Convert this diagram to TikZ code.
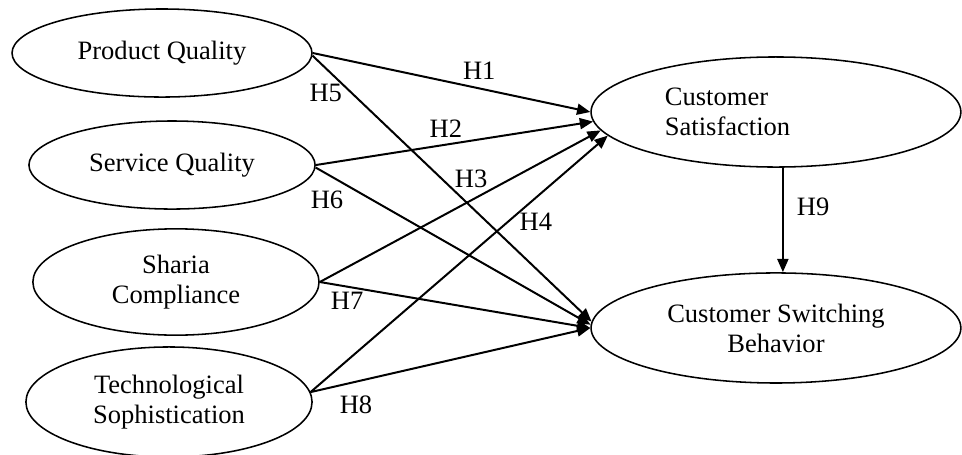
\documentclass[tikz,border=0pt]{standalone}
\usepackage{fontspec}
\setmainfont{Liberation Serif}
\usepackage{tikz}
\usetikzlibrary{positioning,shapes.geometric,arrows.meta}
\tikzset{
    varnode/.style={ellipse, draw=black, line width=0.7pt, inner sep=0pt, align=center,
        font=\fontsize{12pt}{13.6pt}\selectfont},
    hyparrow/.style={draw=black, line width=0.9pt, -{Triangle[length=6pt,width=5pt]}},
    hlabel/.style={inner sep=0pt, font=\fontsize{12pt}{13.6pt}\selectfont}
}
\begin{document}
\begin{tikzpicture}
    \useasboundingbox (0,0) rectangle (15.296,-7.219);
    % Bien doc lap (ben trai)
    \node[varnode, minimum width=4.77cm, minimum height=1.40cm] (pq) at (2.576,-0.843) {Product Quality};
    \node[varnode, minimum width=4.55cm, minimum height=1.40cm] (sq) at (2.735,-2.624) {Service Quality};
    \node[varnode, minimum width=4.55cm, minimum height=1.69cm] (sc) at (2.798,-4.484) {Sharia\\Compliance};
    \node[varnode, minimum width=4.55cm, minimum height=1.75cm] (ts) at (2.687,-6.392) {Technological\\Sophistication};
    % Bien phu thuoc (ben phai)
    \node[varnode, minimum width=5.88cm, minimum height=1.75cm, text width=3.53cm, align=left] (cs) at (12.338,-1.781) {Customer\\Satisfaction};
    \node[varnode, minimum width=5.88cm, minimum height=1.75cm] (csb) at (12.338,-5.215) {Customer Switching\\Behavior};
    % Gia thuyet H1 - H4
    \draw[hyparrow] (pq.east) -- (cs.west);
    \draw[hyparrow] (sq.east) -- (cs.183);
    \draw[hyparrow] (sc.east) -- (cs.186);
    \draw[hyparrow] (ts.4) -- (cs.188);
    % Gia thuyet H5 - H8
    \draw[hyparrow] (pq.-1.5) -- (csb.178);
    \draw[hyparrow] (sq.-1.5) -- (csb.179);
    \draw[hyparrow] (sc.east) -- (csb.west);
    \draw[hyparrow] (ts.4) -- (csb.180);
    % H9
    \draw[hyparrow] ([xshift=0.11cm]cs.south) -- ([xshift=0.11cm]csb.north);
    % Nhan
    \node[hlabel] (h1) at (7.62,-1.13) {H1};
    \node[hlabel] (h2) at (7.09,-2.05) {H2};
    \node[hlabel] (h3) at (7.49,-2.85) {H3};
    \node[hlabel] (h4) at (8.52,-3.53) {H4};
    \node[hlabel] (h5) at (5.18,-1.48) {H5};
    \node[hlabel] (h6) at (5.20,-3.18) {H6};
    \node[hlabel] (h7) at (5.52,-4.79) {H7};
    \node[hlabel] (h8) at (5.66,-6.44) {H8};
    \node[hlabel] (h9) at (12.93,-3.29) {H9};
\end{tikzpicture}
\end{document}
